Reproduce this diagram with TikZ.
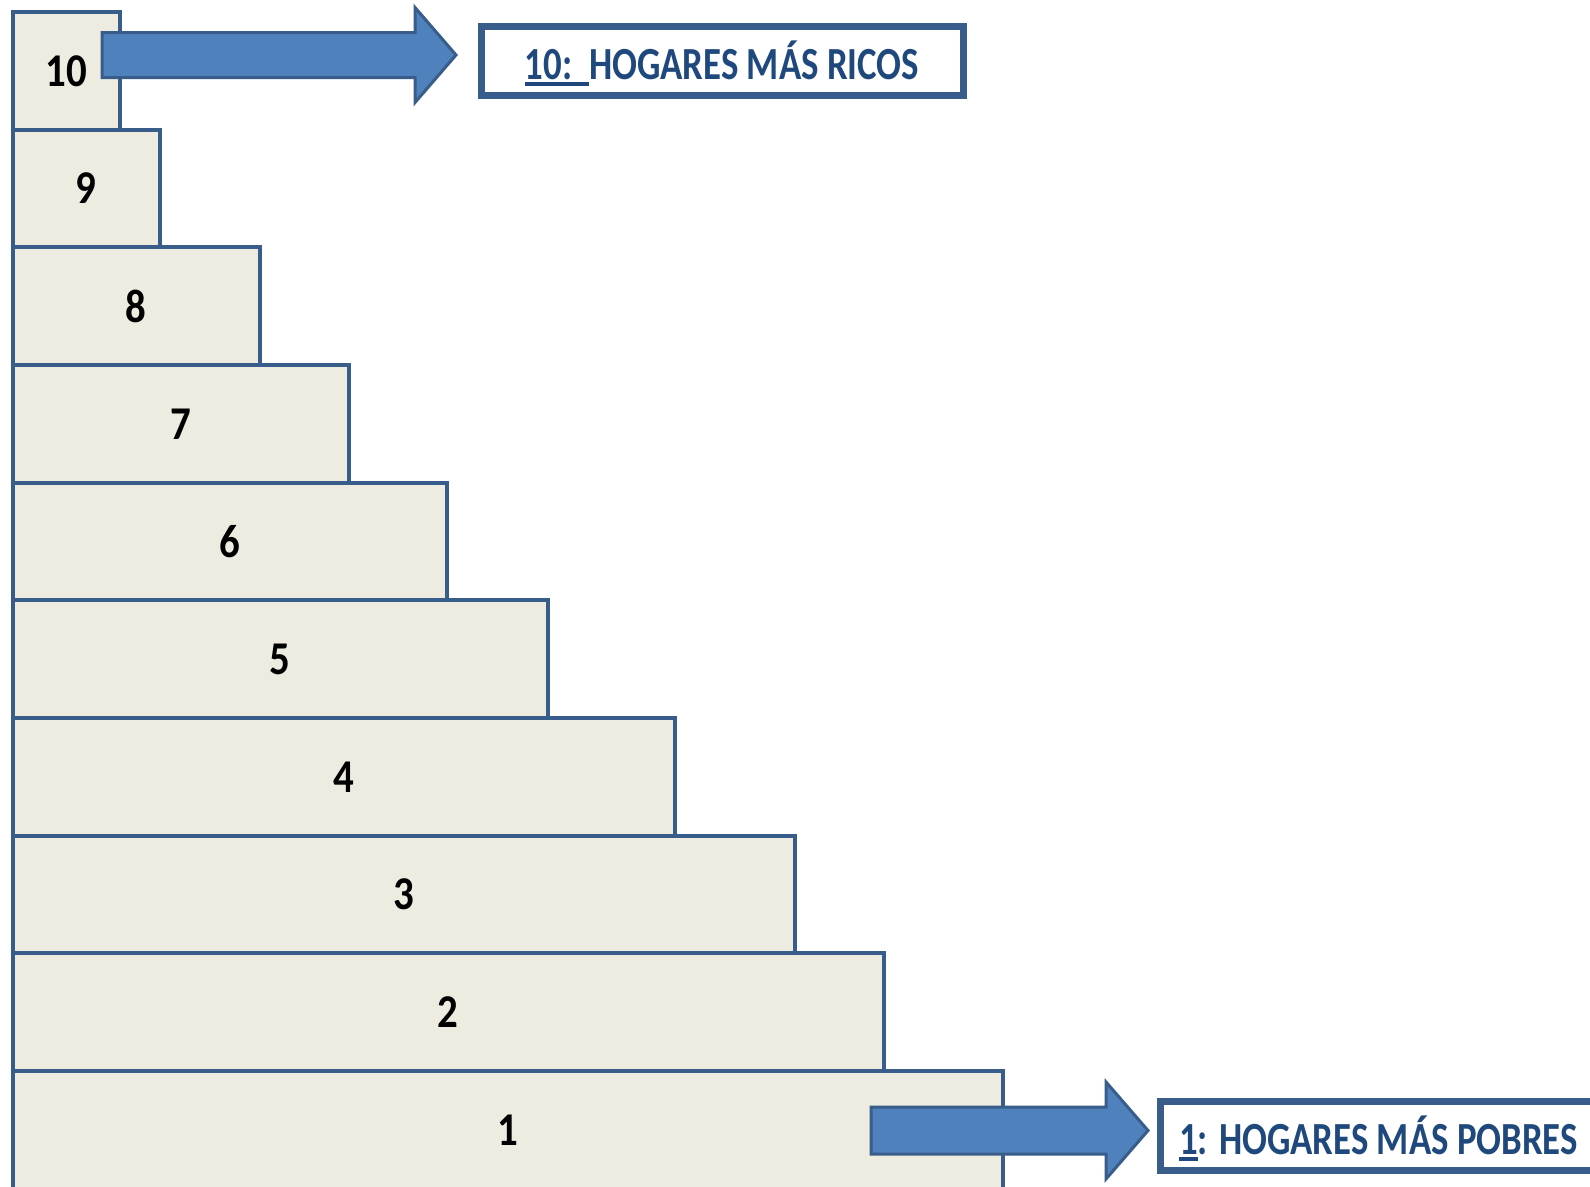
\documentclass[tikz,border=0pt]{standalone}
\usepackage{fontspec}
\usepackage{graphicx}
\setmainfont{Carlito}
\definecolor{stepfill}{HTML}{EEECE1}
\definecolor{stepline}{HTML}{385D8A}
\definecolor{arrowfill}{HTML}{4F81BD}
\definecolor{labtext}{HTML}{1F497D}
\newcommand\myul[1]{\sbox0{#1}\rlap{\rule[-6.8pt]{\wd0}{3.8pt}}\usebox0}
\newcommand\narrowtxt[1]{\scalebox{0.80}[1]{#1}}
\newcommand\narrowdig[1]{\scalebox{0.87}[1]{#1}}
\begin{document}
\begin{tikzpicture}[x=1pt,y=-1pt,
  stepbox/.style={draw=stepline, fill=stepfill, line width=4pt, inner sep=0pt, outer sep=0pt,
    anchor=north west, font=\fontsize{47}{52}\selectfont\bfseries},
  blockarrow/.style={draw=stepline, fill=arrowfill, line width=3pt, line join=miter},
  labbox/.style={draw=stepline, fill=white, line width=7pt, inner sep=0pt, outer sep=0pt},
  labtxt/.style={text=labtext, inner sep=0pt, font=\fontsize{46}{50}\selectfont\bfseries}]
\useasboundingbox (0,0) rectangle (1590,1186);
\clip (0,0) rectangle (1590,1186);
\fill[white] (0,0) rectangle (1590,1186);
\foreach \k/\r in {10/120,9/160,8/260,7/349,6/447,5/548,4/675,3/795,2/884,1/1003}{
  \pgfmathsetmacro\t{12+(10-\k)*117.67}
  \node[stepbox, minimum width={\r-12.5}, minimum height=117.67] (s\k) at (12.5,\t) {\narrowdig{\k}};
}
\draw[blockarrow] (102,32.5) -- (415,32.5) -- (415,7.5) -- (456,55) -- (415,102.5) -- (415,77.5) -- (102,77.5) -- cycle;
\draw[blockarrow] (871,1107) -- (1106,1107) -- (1106,1082) -- (1148,1130.5) -- (1106,1179) -- (1106,1154) -- (871,1154) -- cycle;
\node[labbox, minimum width=482, minimum height=68.5] (topbox) at (722,60.75) {};
\node[labtxt, anchor=base] (toplab) at (722,79) {\narrowtxt{\myul{10:\ \ }HOGARES MÁS RICOS}};
\node[labbox, anchor=north west, minimum width=460, minimum height=69] (botbox) at (1160,1101.5) {};
\node[labtxt, anchor=base west] (botlab) at (1179,1154) {\narrowtxt{\myul{1}: HOGARES MÁS POBRES}};
\end{tikzpicture}
\end{document}
